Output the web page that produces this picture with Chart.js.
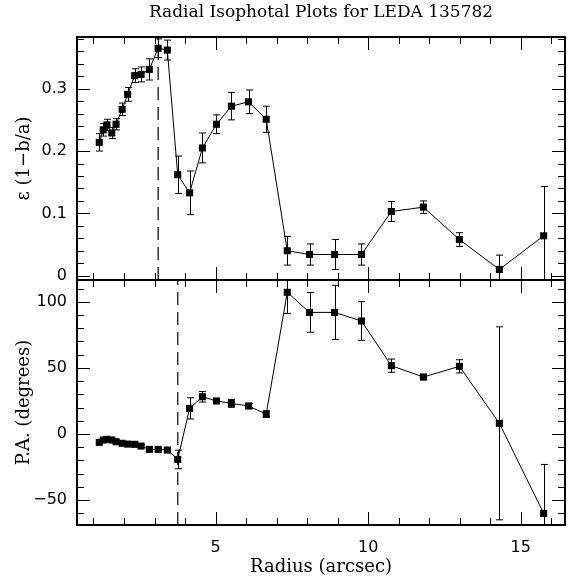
<!DOCTYPE html>
<html>
<head>
<meta charset="utf-8">
<script src="https://cdn.jsdelivr.net/npm/chart.js@4.4.0/dist/chart.umd.min.js"></script>
<style>
  html, body { margin: 0; padding: 0; background: #fff; }
  #wrap { position: relative; width: 570px; height: 583px; }
  .panel { position: absolute; left: 0; }
</style>
</head>
<body>
<div id="wrap">
  <canvas id="ellChart" class="panel" width="570" height="285" style="top:0"></canvas>
  <canvas id="paChart" class="panel" width="570" height="308" style="top:275px"></canvas>
</div>
<script>
// radius of each isophote (arcsec)
const radius = [1.19, 1.32, 1.44, 1.60, 1.74, 1.94, 2.12, 2.35, 2.56, 2.83, 3.12, 3.42, 3.76, 4.15,
                4.57, 5.03, 5.52, 6.08, 6.66, 7.35, 8.08, 8.90, 9.78, 10.76, 11.81, 12.99, 14.30, 15.75];
const ellipticity = [0.214, 0.234, 0.242, 0.229, 0.243, 0.267, 0.291, 0.321, 0.323, 0.331, 0.365, 0.362, 0.162, 0.133,
                     0.205, 0.243, 0.272, 0.279, 0.251, 0.040, 0.034, 0.034, 0.034, 0.103, 0.110, 0.058, 0.010, 0.064];
const ellipticityErr = [0.014, 0.010, 0.009, 0.009, 0.009, 0.010, 0.011, 0.011, 0.012, 0.017, 0.015, 0.016, 0.030, 0.035,
                        0.024, 0.015, 0.022, 0.019, 0.021, 0.023, 0.017, 0.024, 0.017, 0.016, 0.010, 0.011, 0.023, 0.079];
const positionAngle = [-6.3, -4.5, -4.0, -4.5, -5.8, -7.0, -7.6, -7.8, -9.1, -11.6, -11.6, -12.1, -19.2, 19.4,
                       28.2, 25.0, 23.2, 21.2, 15.1, 107.2, 92.0, 92.0, 85.5, 51.7, 43.1, 51.2, 8.1, -60.0];
const positionAngleErr = [1, 1, 1, 1, 1, 1, 1, 1, 1, 1, 1, 1.5, 7, 8,
                          4, 1.5, 3, 2, 2.5, 16, 15, 20.5, 14.6, 5, 2, 5, 73, 37];
// dashed markers
const ellMarkRadius = 3.12;
const paMarkRadius = 3.76;
// axis ranges and tick steps
const radiusRange = [0.46, 16.45];
const ellRange = [-0.0069, 0.383];
const paRange = [-68.8, 116.5];
const radiusTicks = { major: 5, minor: 1 };
const ellTicks = { major: 0.1, minor: 0.02 };
const paTicks = { major: 50, minor: 10 };

Chart.defaults.color = '#000';
Chart.defaults.animation = false;

const tickFont = { family: 'DejaVu Sans', size: 16 };
const titleFont = { family: 'DejaVu Serif', size: 18 };

function toPoints(ys) {
    return radius.map((r, i) => ({ x: r, y: ys[i] }));
}

// scales reserve half a label of room at their ends; the frame here is fixed
function noEndPadding(s) {
    s.paddingTop = 0; s.paddingBottom = 0;
    s.paddingLeft = 0; s.paddingRight = 0;
}

function drawTickSet(ctx, scale, step, len, isMajorFn, horizontal, area) {
    const start = Math.ceil(scale.min / step - 1e-9);
    for (let k = start; k * step <= scale.max + 1e-9; k++) {
        const v = k * step;
        const l = isMajorFn(k) ? len.major : len.minor;
        const p = Math.round(scale.getPixelForValue(v)) + 0.5;
        ctx.beginPath();
        if (horizontal) {
            ctx.moveTo(p, area.bottom); ctx.lineTo(p, area.bottom - l);
            ctx.moveTo(p, area.top); ctx.lineTo(p, area.top + l);
        } else {
            ctx.moveTo(area.left, p); ctx.lineTo(area.left + l, p);
            ctx.moveTo(area.right, p); ctx.lineTo(area.right - l, p);
        }
        ctx.stroke();
    }
}

const panelDecor = {
    id: 'panelDecor',
    beforeDatasetsDraw(chart, args, opts) {
        const { ctx, chartArea: a, scales: { x, y } } = chart;
        ctx.save();
        ctx.beginPath();
        ctx.rect(a.left, a.top, a.right - a.left, a.bottom - a.top);
        ctx.clip();
        // dashed vertical line
        ctx.strokeStyle = '#333';
        ctx.lineWidth = 1.5;
        ctx.setLineDash([13, 7]);
        const dx = x.getPixelForValue(opts.markAt);
        ctx.beginPath();
        ctx.moveTo(dx, a.bottom);
        ctx.lineTo(dx, a.top);
        ctx.stroke();
        ctx.setLineDash([]);
        // error bars
        ctx.strokeStyle = '#000';
        ctx.lineWidth = 1;
        const vals = chart.data.datasets[0].data;
        vals.forEach((pt, i) => {
            const e = opts.errors[i];
            const px = Math.round(x.getPixelForValue(pt.x)) + 0.5;
            const y1 = y.getPixelForValue(pt.y + e);
            const y2 = y.getPixelForValue(pt.y - e);
            ctx.beginPath();
            ctx.moveTo(px, y1); ctx.lineTo(px, y2);
            ctx.moveTo(px - 3.5, y1); ctx.lineTo(px + 3.5, y1);
            ctx.moveTo(px - 3.5, y2); ctx.lineTo(px + 3.5, y2);
            ctx.stroke();
        });
        ctx.restore();
    },
    afterDraw(chart, args, opts) {
        const { ctx, chartArea: a, scales: { x, y } } = chart;
        ctx.save();
        ctx.strokeStyle = '#000';
        ctx.lineWidth = 1;
        const len = { major: 13, minor: 7 };
        const xr = Math.round(opts.xTicks.major / opts.xTicks.minor);
        const yr = Math.round(opts.yTicks.major / opts.yTicks.minor);
        drawTickSet(ctx, x, opts.xTicks.minor, len, k => k % xr === 0, true, a);
        drawTickSet(ctx, y, opts.yTicks.minor, len, k => k % yr === 0, false, a);
        ctx.lineWidth = 2;
        ctx.strokeRect(a.left, a.top, a.right - a.left, a.bottom - a.top);
        ctx.restore();
    }
};

const lineStyle = {
    borderColor: '#000',
    borderWidth: 1,
    pointStyle: 'rect',
    pointRadius: 5,
    pointBackgroundColor: '#000',
    pointBorderColor: '#000',
    pointBorderWidth: 0,
    tension: 0
};

const ellChart = new Chart(document.getElementById('ellChart'), {
    type: 'line',
    data: { datasets: [{ label: 'ellipticity', data: toPoints(ellipticity), ...lineStyle }] },
    options: {
        responsive: false,
        layout: { padding: { top: 0, right: 5, bottom: 5, left: 0 } },
        scales: {
            x: {
                type: 'linear', min: radiusRange[0], max: radiusRange[1], display: false,
                afterFit: noEndPadding
            },
            y: {
                min: ellRange[0], max: ellRange[1],
                grid: { display: false, drawTicks: false },
                border: { display: false },
                ticks: {
                    stepSize: ellTicks.major, includeBounds: false, padding: 10, font: tickFont,
                    callback: v => Math.abs(v) < 1e-9 ? '0' : v.toFixed(1)
                },
                title: { display: true, text: 'ε (1−b/a)', font: titleFont, padding: { top: 14, bottom: 0 } },
                afterFit: s => { s.width = 77; noEndPadding(s); }
            }
        },
        plugins: {
            legend: { display: false },
            tooltip: { enabled: false },
            title: {
                display: true, fullSize: false,
                text: 'Radial Isophotal Plots for LEDA 135782',
                font: { family: 'DejaVu Serif', size: 17, weight: 'normal', lineHeight: 1.2 },
                padding: { top: 2, bottom: 14.6 }
            },
            panelDecor: { errors: ellipticityErr, markAt: ellMarkRadius, xTicks: radiusTicks, yTicks: ellTicks }
        }
    },
    plugins: [panelDecor]
});

const paChart = new Chart(document.getElementById('paChart'), {
    type: 'line',
    data: { datasets: [{ label: 'position angle', data: toPoints(positionAngle), ...lineStyle }] },
    options: {
        responsive: false,
        layout: { padding: { top: 5, right: 5, bottom: 0, left: 0 } },
        scales: {
            x: {
                type: 'linear', min: radiusRange[0], max: radiusRange[1],
                grid: { display: false, drawTicks: false },
                border: { display: false },
                ticks: { stepSize: radiusTicks.major, includeBounds: false, padding: 13, font: tickFont, maxRotation: 0 },
                title: { display: true, text: 'Radius (arcsec)', font: titleFont, padding: { top: 0, bottom: 5 } },
                afterFit: s => { s.height = 58; noEndPadding(s); }
            },
            y: {
                min: paRange[0], max: paRange[1],
                grid: { display: false, drawTicks: false },
                border: { display: false },
                ticks: {
                    stepSize: paTicks.major, includeBounds: false, padding: 10, font: tickFont,
                    callback: v => v < 0 ? '\u2212' + Math.abs(v) : String(v)
                },
                title: { display: true, text: 'P.A. (degrees)', font: titleFont, padding: { top: 14, bottom: 0 } },
                afterFit: s => { s.width = 77; noEndPadding(s); }
            }
        },
        plugins: {
            legend: { display: false },
            tooltip: { enabled: false },
            panelDecor: { errors: positionAngleErr, markAt: paMarkRadius, xTicks: radiusTicks, yTicks: paTicks }
        }
    },
    plugins: [panelDecor]
});
</script>
</body>
</html>
